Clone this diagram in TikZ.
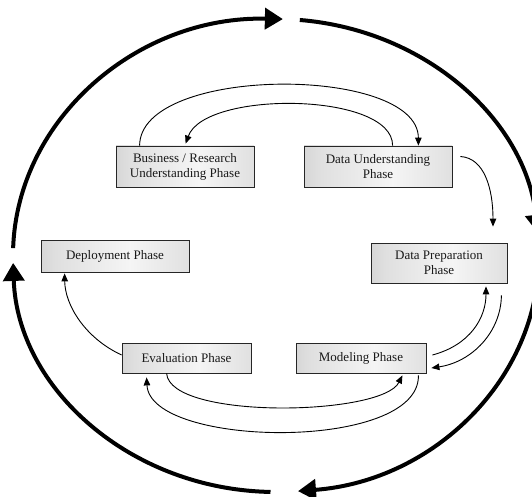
\documentclass[tikz,border=0pt]{standalone}
\usepackage{fontspec}
\setmainfont{Liberation Serif}
\usetikzlibrary{arrows.meta,calc}

% grey bar shading of the phase boxes
\pgfdeclarehorizontalshading{phaseshade}{100bp}{%
  color(0bp)=(gray!65); color(30bp)=(gray!25); color(55bp)=(gray!8);
  color(80bp)=(gray!28); color(100bp)=(gray!55)}

\begin{document}
\begin{tikzpicture}[x=1pt,y=1pt,yscale=-1,
  phase/.style={draw=black!85, line width=0.8pt, shading=phaseshade,
    inner sep=0pt, align=center, text=black!90,
    font=\fontsize{13}{15}\selectfont},
  cyclearrow/.style={line width=4pt, -{Triangle[length=18pt,width=21pt]}},
  flow/.style={line width=0.9pt, -{Triangle[length=8pt,width=6.5pt]}}]

\useasboundingbox (0,0) rectangle (532,497);

% outer cycle, four clockwise arcs
\coordinate (O) at (276,255.5);
\draw[cyclearrow] (O) ++(181.8:263pt and 236.5pt)
  arc[start angle=181.8, end angle=271.5, x radius=263pt, y radius=236.5pt];
\draw[cyclearrow] (O) ++(275.2:263pt and 236.5pt)
  arc[start angle=275.2, end angle=354.5, x radius=263pt, y radius=236.5pt];
\draw[cyclearrow] (O) ++(0:263pt and 236.5pt)
  arc[start angle=0, end angle=85.2, x radius=263pt, y radius=236.5pt];
\draw[cyclearrow] (O) ++(91.2:263pt and 236.5pt)
  arc[start angle=91.2, end angle=178.2, x radius=263pt, y radius=236.5pt];

% phases
\node[phase, minimum width=138pt, minimum height=41pt] (bus) at (185,166.5)
  {Business / Research\\Understanding Phase};
\node[phase, minimum width=148pt, minimum height=41pt] (du) at (378,166.5)
  {Data Understanding\\Phase};
\node[phase, minimum width=148pt, minimum height=32pt] (dep) at (115,256)
  {Deployment Phase};
\node[phase, minimum width=136pt, minimum height=40pt] (dp) at (439,263)
  {Data Preparation\\Phase};
\node[phase, minimum width=129pt, minimum height=30pt] (ev) at (186.5,358)
  {Evaluation Phase};
\node[phase, minimum width=130pt, minimum height=30pt] (mod) at (361,358)
  {Modeling Phase};

% business <-> data understanding
\draw[flow] ($(bus.north west)+(24,0)$) .. controls (140,65) and (418,65)
  .. ($(du.north east)+(-34,0)$);
\draw[flow] ($(du.north west)+(89,0)$) .. controls (393,92) and (205,90)
  .. ($(bus.north west)+(70,-2)$);

% data understanding -> data preparation
\draw[flow] ($(du.east)+(8,-10)$) .. controls (485,158) and (493,190)
  .. ($(dp.north)+(54,-16)$);

% data preparation <-> modeling
\draw[flow] ($(mod.east)+(6,-3)$) .. controls (470,345) and (486,318)
  .. ($(dp.south)+(47,3)$);
\draw[flow] ($(dp.south east)+(-6,12)$) .. controls (501,332) and (472,362)
  .. ($(mod.east)+(5,10)$);

% modeling <-> evaluation
\draw[flow] ($(mod.south east)+(-8,2)$) .. controls (420,452) and (150,448)
  .. ($(ev.south west)+(25,4)$);
\draw[flow] ($(ev.south west)+(45,0)$) .. controls (170,420) and (382,416)
  .. ($(mod.south east)+(-24,2)$);

% evaluation -> deployment
\draw[flow] ($(ev.west)+(0,-3)$) .. controls (85,338) and (65,305)
  .. ($(dep.south west)+(24,1)$);

\end{tikzpicture}
\end{document}
